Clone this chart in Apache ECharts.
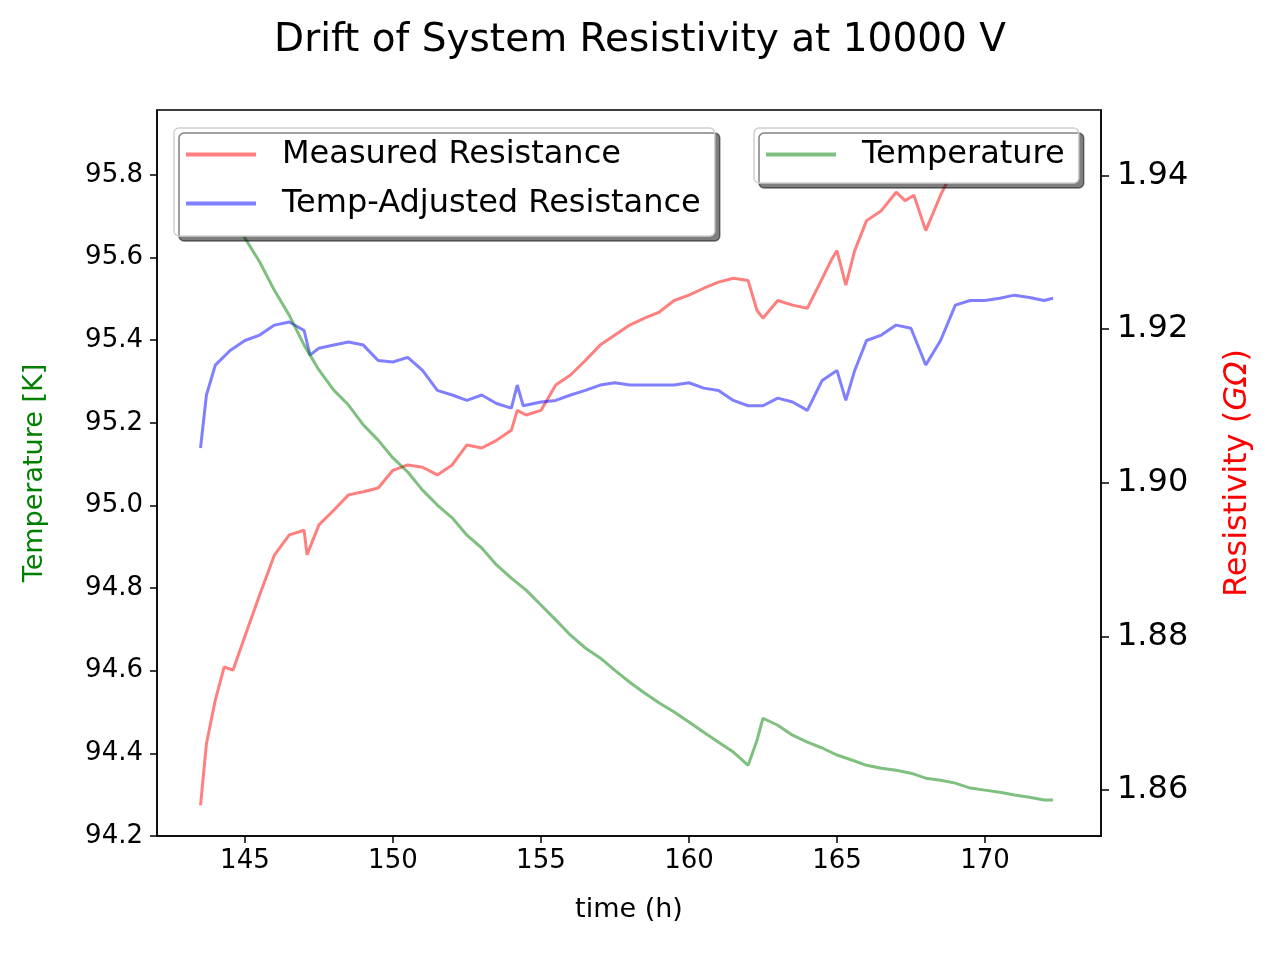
<!DOCTYPE html>
<html><head><meta charset="utf-8">
<script src="https://cdn.jsdelivr.net/npm/echarts@6/dist/echarts.min.js"></script>
<style>html,body{margin:0;padding:0;background:#fff}#c{width:1280px;height:960px}</style>
</head><body><div id="c"></div>
<script>
var timeR=[143.5,143.7,144,144.3,144.6,145,145.5,146,146.5,147,147.1,147.5,148,148.5,149,149.5,150,150.5,151,151.5,152,152.5,153,153.5,154,154.2,154.5,155,155.5,156,156.5,157,157.5,158,158.5,159,159.5,160,160.5,161,161.5,162,162.3,162.5,163,163.5,164,164.3,164.8,165,165.3,165.6,166,166.5,167,167.3,167.6,168,168.5,169,169.5,170,170.5,171,171.5,172,172.3];
var measured=[1.858,1.866,1.8717,1.876,1.8756,1.880,1.8854,1.8906,1.8932,1.8938,1.8906,1.8945,1.8964,1.8984,1.8988,1.8993,1.9016,1.9023,1.902,1.901,1.9023,1.9049,1.9045,1.9055,1.9068,1.9094,1.9088,1.9094,1.9127,1.914,1.9159,1.9179,1.9192,1.9205,1.9214,1.9222,1.9237,1.9244,1.9253,1.9261,1.9266,1.9263,1.9224,1.9214,1.9237,1.9231,1.9227,1.925,1.9289,1.9302,1.9257,1.9302,1.9341,1.9354,1.9378,1.9367,1.9374,1.9328,1.9374,1.9413,1.9426,1.943,1.9432,1.9435,1.9439,1.9437,1.9435];
var timeA=[143.5,143.7,144,144.5,145,145.5,146,146.5,147,147.2,147.5,148,148.5,149,149.5,150,150.5,151,151.5,152,152.5,153,153.5,154,154.2,154.4,155,155.5,156,156.5,157,157.5,158,158.5,159,159.5,160,160.5,161,161.5,162,162.5,163,163.5,164,164.5,165,165.3,165.6,166,166.5,167,167.5,168,168.5,169,169.5,170,170.5,171,171.5,172,172.3];
var adjusted=[1.9045,1.9114,1.9153,1.9172,1.9185,1.9192,1.9205,1.9209,1.9198,1.9166,1.9175,1.9179,1.9183,1.9179,1.9159,1.9157,1.9163,1.9146,1.912,1.9114,1.9107,1.9114,1.9103,1.9097,1.9127,1.91,1.9105,1.9107,1.9114,1.912,1.9127,1.913,1.9127,1.9127,1.9127,1.9127,1.913,1.9123,1.912,1.9107,1.91,1.91,1.911,1.9105,1.9094,1.9133,1.9146,1.9107,1.9146,1.9185,1.9192,1.9205,1.9201,1.9153,1.9185,1.9231,1.9237,1.9237,1.924,1.9244,1.9241,1.9237,1.924];
var timeT=[143.5,144,144.5,145,145.5,146,146.5,147,147.5,148,148.5,149,149.5,150,150.5,151,151.5,152,152.5,153,153.5,154,154.5,155,155.5,156,156.5,157,157.5,158,158.5,159,159.5,160,160.5,161,161.5,162,162.3,162.5,163,163.5,164,164.5,165,165.5,166,166.5,167,167.5,168,168.5,169,169.5,170,170.5,171,171.5,172,172.3];
var temperature=[95.85,95.78,95.71,95.647,95.589,95.52,95.46,95.388,95.328,95.279,95.243,95.195,95.158,95.115,95.081,95.037,95.001,94.97,94.928,94.897,94.856,94.824,94.795,94.759,94.723,94.686,94.655,94.631,94.601,94.572,94.546,94.522,94.5,94.476,94.451,94.427,94.403,94.371,94.432,94.485,94.468,94.444,94.427,94.413,94.396,94.384,94.371,94.364,94.359,94.352,94.34,94.335,94.328,94.316,94.311,94.306,94.299,94.294,94.287,94.287];
var xTicks=[145,150,155,160,165,170];
var leftTicks=[94.2,94.4,94.6,94.8,95.0,95.2,95.4,95.6,95.8];
var rightTicks=[1.86,1.88,1.90,1.92,1.94];
function zip(a,b){return a.map(function(v,i){return [v,b[i]];});}
var F='DejaVu Sans';
var chart=echarts.init(document.getElementById('c'));
var legendCommon={orient:'vertical',itemWidth:70,itemHeight:4,
  backgroundColor:'#fff',borderColor:'#d0d0d0',borderWidth:1.5,borderRadius:5,shadowColor:'rgba(0,0,0,0.5)',shadowOffsetX:5,shadowOffsetY:5,shadowBlur:0,
  textStyle:{fontFamily:F,fontSize:32,color:'#000',lineHeight:33,padding:[0,0,0,21]},icon:'rect'};
chart.setOption({
  animation:false,
  title:{text:'Drift of System Resistivity at 10000 V',left:'center',top:16,textStyle:{fontFamily:F,fontSize:39,fontWeight:'normal',color:'#000'}},
  grid:{left:157,right:179,top:110,bottom:124,show:true,borderColor:'#000',borderWidth:1.5,backgroundColor:'transparent'},
  xAxis:{type:'value',min:142.03,max:173.92,name:'time (h)',nameLocation:'middle',nameGap:60,nameTextStyle:{fontFamily:F,fontSize:27,color:'#000'},
    axisLine:{show:true,lineStyle:{color:'#000',width:1.5}},splitLine:{show:false},
    axisTick:{show:true,length:7,lineStyle:{color:'#000',width:1.5},customValues:xTicks},
    axisLabel:{fontFamily:F,fontSize:26,color:'#000',margin:12,customValues:xTicks}},
  yAxis:[
    {type:'value',min:94.2,max:95.957,position:'left',name:'Temperature [K]',nameLocation:'middle',nameGap:109,nameRotate:90,
      nameTextStyle:{fontFamily:F,fontSize:27,color:'green'},
      axisLine:{show:true,lineStyle:{color:'#000',width:1.5}},splitLine:{show:false},
      axisTick:{show:true,length:7,lineStyle:{color:'#000',width:1.5},customValues:leftTicks},
      axisLabel:{fontFamily:F,fontSize:26,color:'#000',margin:14,customValues:leftTicks,formatter:function(v){return v.toFixed(1);}}},
    {type:'value',min:1.854,max:1.9485,position:'right',name:'{n|Resistivity (}{i|GΩ}{n|)}',nameLocation:'middle',nameGap:121,nameRotate:90,
      nameTextStyle:{rich:{n:{fontFamily:F,fontSize:32,color:'red'},i:{fontFamily:F,fontSize:32,color:'red',fontStyle:'italic'}}},
      axisLine:{show:true,lineStyle:{color:'#000',width:1.5}},splitLine:{show:false},
      axisTick:{show:true,length:8,lineStyle:{color:'#000',width:1.5},customValues:rightTicks},
      axisLabel:{fontFamily:F,fontSize:32,color:'#000',margin:16,customValues:rightTicks,formatter:function(v){return v.toFixed(2);}}}
  ],
  legend:[
    Object.assign({},legendCommon,{data:['Measured Resistance','Temp-Adjusted Resistance'],left:174,top:128,padding:[10,14,16,12],itemGap:16}),
    Object.assign({},legendCommon,{data:['Temperature'],left:754,top:128,padding:[10,14,12,12]})
  ],
  series:[
    {name:'Measured Resistance',type:'line',yAxisIndex:1,data:zip(timeR,measured),showSymbol:false,color:'rgba(255,0,0,0.5)',lineStyle:{width:3,color:'rgba(255,0,0,0.5)'}},
    {name:'Temp-Adjusted Resistance',type:'line',yAxisIndex:1,data:zip(timeA,adjusted),showSymbol:false,color:'rgba(0,0,255,0.5)',lineStyle:{width:3,color:'rgba(0,0,255,0.5)'}},
    {name:'Temperature',type:'line',yAxisIndex:0,data:zip(timeT,temperature),showSymbol:false,color:'rgba(0,128,0,0.5)',lineStyle:{width:3,color:'rgba(0,128,0,0.5)'}}
  ]
});
</script></body></html>
